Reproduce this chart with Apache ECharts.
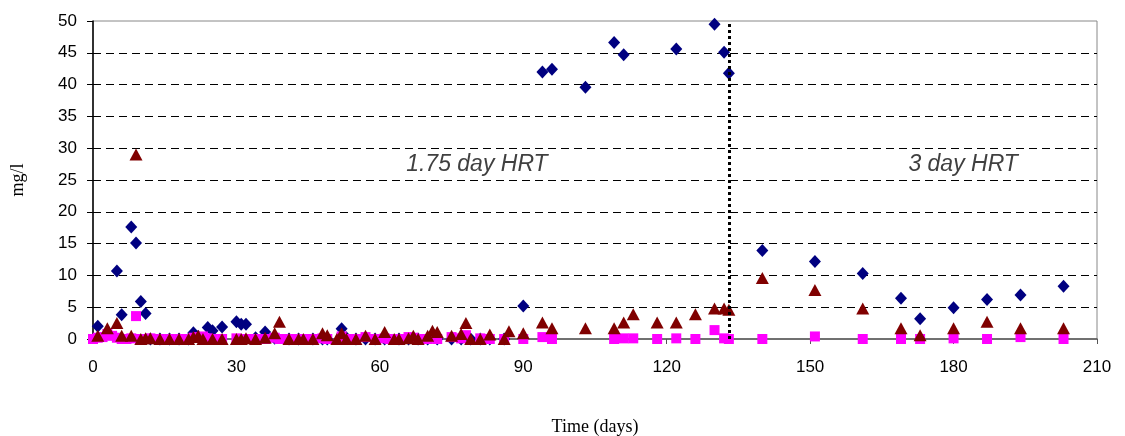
<!DOCTYPE html>
<html>
<head>
<meta charset="utf-8">
<script src="https://cdn.jsdelivr.net/npm/echarts@6/dist/echarts.min.js"></script>
<style>html,body{margin:0;padding:0;background:#fff;}#c{width:1125px;height:436px;}</style>
</head>
<body>
<div id="c"></div>
<script>
// Blue diamonds
const diamondDays = [1,5,6,8,9,10,11,12,14,16,18,20,21,22,24,25,27,30,31,32,34,36,38,41,43,46,48,49,52,53,55,57,59,61,64,66,68,70,72,75,77,79,81,83,86,90,94,96,103,109,111,122,130,132,133,140,151,161,169,173,180,187,194,203];
const diamondVals = [2.0,10.7,3.8,17.6,15.1,5.9,4.0,0,0,0,0,0,1.0,0.4,1.8,1.3,1.9,2.7,2.3,2.3,0.2,1.1,0.1,0,0,0,0,0,1.6,0.2,0,0,0,0,0,0,0,0,0,0,0,0,0,0,0,5.2,42.0,42.4,39.6,46.6,44.7,45.6,49.5,45.1,41.8,13.9,12.2,10.3,6.4,3.2,4.9,6.2,6.9,8.3];
// Dark red triangles
const triangleDays = [1,3,5,6,8,9,10,11,12,14,16,18,20,21,22,23,25,27,30,31,32,34,36,38,39,41,43,44,46,48,49,51,52,53,55,57,59,61,63,64,66,67,68,70,71,72,75,77,78,79,81,83,86,87,90,94,96,103,109,111,113,118,122,126,130,132,133,140,151,161,169,173,180,187,194,203];
const triangleVals = [0.5,1.7,2.5,0.5,0.5,29.0,0,0.1,0.1,0,0,0,0,0.3,0.5,0,0,0,0,0,0.1,0,0.2,0.9,2.7,0,0,0,0,0.9,0.6,0,0.9,0,0,0.5,0,1.1,0,0,0.1,0.5,0,0.5,1.3,1.1,0.5,0.8,2.5,0,0,0.7,0,1.2,0.9,2.6,1.7,1.7,1.7,2.6,3.9,2.6,2.6,3.9,4.8,4.8,4.6,9.6,7.7,4.8,1.7,0.6,1.7,2.7,1.7,1.7];
// Magenta squares
const squareDays = [0,1,2,3,4,5,6,7,8,9,10,11,12,14,16,18,20,21,22,23,24,25,27,30,31,32,34,36,38,39,41,43,44,46,48,49,52,53,55,57,59,61,62,64,66,67,68,70,71,72,75,77,78,81,83,86,90,94,96,109,111,113,118,122,126,130,132,133,140,151,161,169,173,180,187,194,203];
const squareVals = [0,0.2,0.3,0.8,0.5,0.2,0,0,0.1,3.6,0,0,0.1,0,0,0,0,0.2,0.3,0.4,0.1,0,0,0.1,0,0,0,0,0.2,0,0,0,0,0,0.1,0,0.4,0,0,0.3,0,0.1,0,0,0.3,0.2,0,0,0.3,0,0.3,0.1,0.6,0.1,0,0,0,0.3,0,0,0.1,0.1,0,0.1,0,1.4,0.1,0,0,0.4,0,0,0,0.1,0,0.3,0];

const xTicks = [0,30,60,90,120,150,180,210];
const yTicks = [0,5,10,15,20,25,30,35,40,45,50];
const hrtChangeDay = 133;
const annotations = [{text:'1.75 day HRT', day:80.3, val:27.4},{text:'3 day HRT', day:182, val:27.4}];

const zip = (d, v) => d.map((x, i) => [x, v[i]]);
const gridColors = yTicks.map((t, i) => (i === 0 || i === yTicks.length - 1) ? 'rgba(0,0,0,0)' : '#000');

const chart = echarts.init(document.getElementById('c'));
chart.setOption({
  animation: false,
  backgroundColor: '#fff',
  grid: {left: 93, right: 28, top: 21, bottom: 97, containLabel: false, outerBoundsMode: 'none',
         show: true, borderColor: '#888', borderWidth: 1, backgroundColor: 'transparent'},
  xAxis: {
    type: 'value', min: xTicks[0], max: xTicks[xTicks.length - 1], interval: 30,
    name: 'Time (days)', nameLocation: 'middle', nameGap: 79,
    nameTextStyle: {fontFamily: 'Liberation Serif', fontSize: 18, color: '#000'},
    axisLine: {show: true, lineStyle: {color: '#555', width: 1.5}},
    axisTick: {show: true, inside: false, length: 5, lineStyle: {color: '#555'}},
    axisLabel: {fontFamily: 'Liberation Sans', fontSize: 17, color: '#000', margin: 20},
    splitLine: {show: false}
  },
  yAxis: {
    type: 'value', min: yTicks[0], max: yTicks[yTicks.length - 1], interval: 5,
    name: 'mg/l', nameLocation: 'middle', nameGap: 66, nameRotate: 90,
    nameTextStyle: {fontFamily: 'Liberation Serif', fontSize: 18, color: '#000'},
    axisLine: {show: true, lineStyle: {color: '#000', width: 1.5}},
    axisTick: {show: true, inside: false, length: 6, lineStyle: {color: '#000'}},
    axisLabel: {fontFamily: 'Liberation Sans', fontSize: 17, color: '#000', margin: 16},
    splitLine: {show: true, lineStyle: {color: gridColors, type: [8, 5], width: 1}}
  },
  series: [
    {type: 'scatter', name: 'diamond', data: zip(diamondDays, diamondVals), symbol: 'diamond', symbolSize: [12, 13],
     itemStyle: {color: '#000080', opacity: 1}, z: 2},
    {type: 'scatter', name: 'square', data: zip(squareDays, squareVals), symbol: 'rect', symbolSize: 10,
     itemStyle: {color: '#FF00FF', opacity: 1}, z: 3},
    {type: 'scatter', name: 'triangle', data: zip(triangleDays, triangleVals), symbol: 'triangle', symbolSize: [13, 12],
     itemStyle: {color: '#800000', opacity: 1}, z: 4,
     markLine: {silent: true, symbol: 'none', label: {show: false},
       lineStyle: {color: '#000', type: [3, 3], width: 3},
       data: [[{coord: [hrtChangeDay, 0]}, {coord: [hrtChangeDay, 50]}]]},
     markPoint: {silent: true, symbol: 'circle', symbolSize: 1, itemStyle: {color: 'rgba(0,0,0,0)'},
       label: {show: true, position: 'inside', fontFamily: 'Liberation Sans', fontStyle: 'italic', fontSize: 23, color: '#404040',
               formatter: p => p.name},
       data: annotations.map(a => ({name: a.text, coord: [a.day, a.val]}))}
    }
  ]
});
</script>
</body>
</html>
